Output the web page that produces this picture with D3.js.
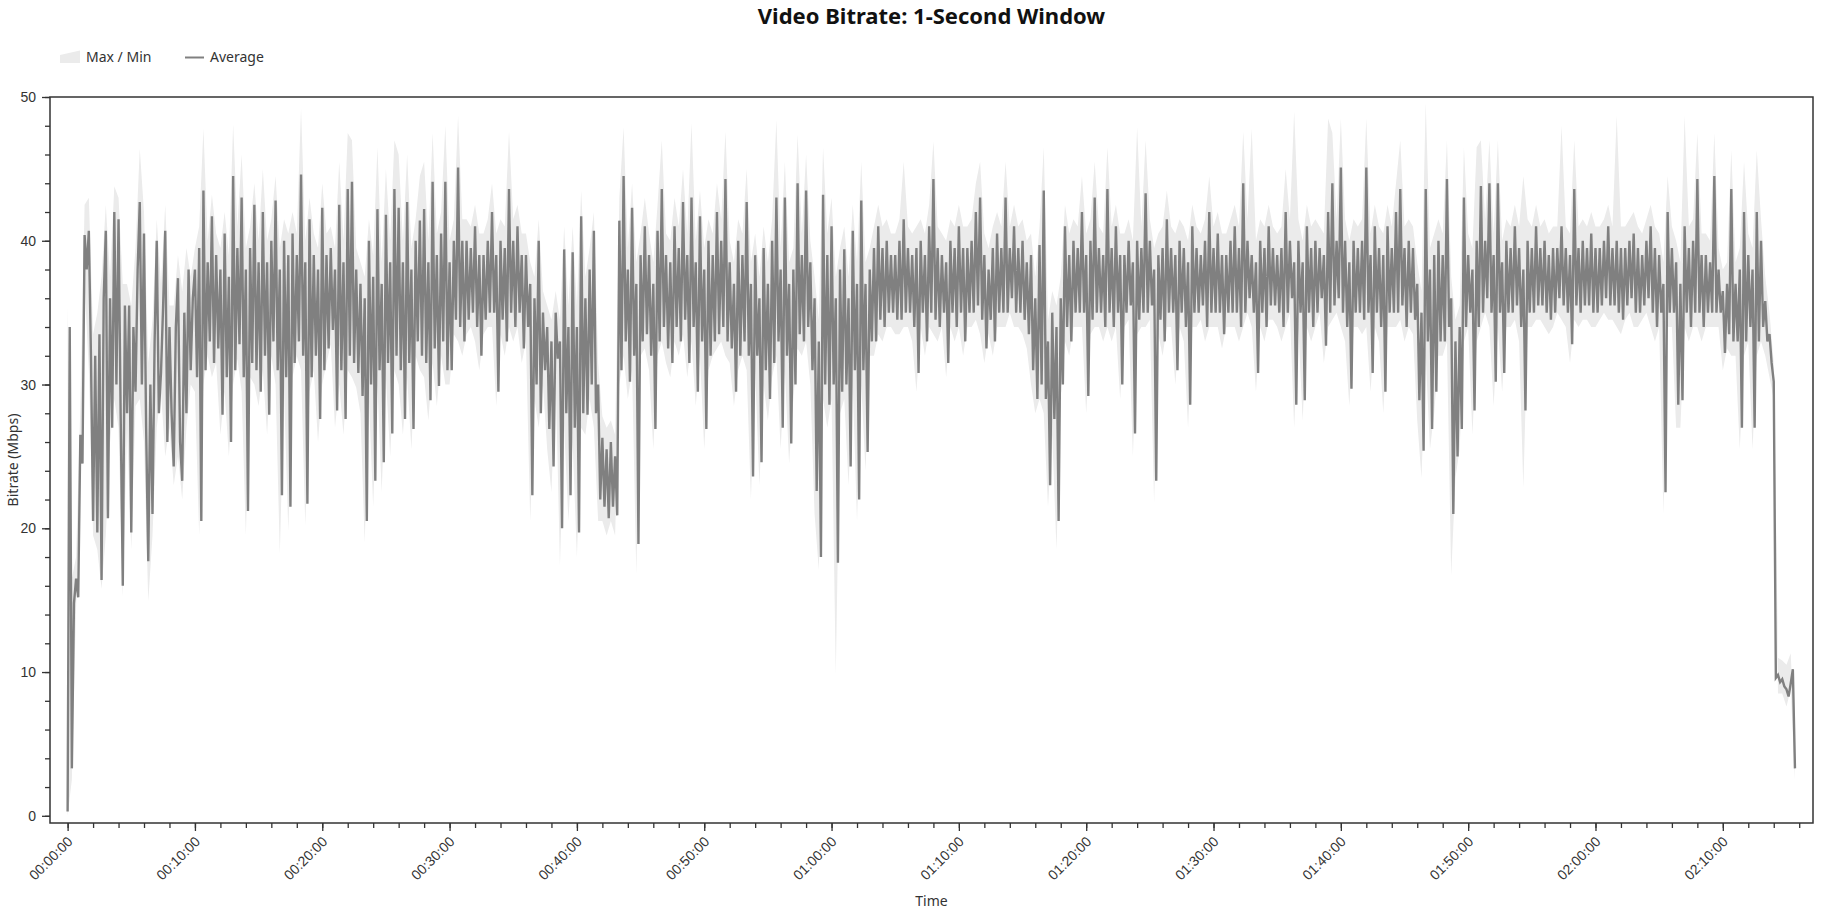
<!DOCTYPE html>
<html>
<head>
<meta charset="utf-8">
<script src="https://cdn.jsdelivr.net/npm/d3@7"></script>
<style>
  body { margin: 0; background: #fff; }
  svg { font-family: "Segoe UI", "Noto Sans", sans-serif; }
</style>
</head>
<body>
<svg id="chart"></svg>
<script>
// average bitrate, one sample every 10 s (Mbps)
const avgStep = 10;
const avgRate = [
  0.3, 34, 3.3, 14.8, 16.5, 15.2, 26.5, 24.5, 40.4, 38, 40.7, 32, 20.5, 32, 19.7, 33.5, 16.4, 36, 40.7, 20.7,
  36, 27, 42, 30, 41.5, 27.9, 16, 35.5, 28, 35.5, 19.7, 34, 29.5, 38, 42.7, 30, 40.5, 27, 17.7, 30,
  21, 33, 40, 28, 30.8, 35.4, 40.7, 26, 34, 28, 24.3, 34, 37.4, 26, 23.3, 35, 28, 38, 31, 36,
  38, 30.5, 39.5, 20.5, 43.5, 31, 38.5, 33, 41.7, 31.5, 39, 32.5, 38, 27.9, 40.5, 30.5, 37.5, 26, 44.5, 31,
  39.5, 32.8, 43, 30.5, 38, 21.2, 39.5, 31.5, 42.5, 31, 38.5, 29.5, 42, 32, 38.5, 27.9, 40, 33, 42.8, 31,
  38, 22.3, 40, 30.5, 39, 21.5, 40.5, 31.5, 39, 33, 44.6, 32, 38.5, 21.7, 41.5, 30.5, 39, 32, 38, 27.6,
  42.3, 31, 39, 32.5, 39.5, 33.8, 38, 28.2, 42.5, 31, 38.5, 27.6, 43.6, 32, 44.1, 31.5, 38, 30.8, 37, 29.2,
  36, 20.5, 40, 30, 37.5, 23.3, 42.2, 31, 37, 24.6, 41.8, 31.5, 38.5, 26.6, 43.6, 32, 42.3, 31, 38.5, 27.6,
  42.7, 31.5, 38, 26.9, 40, 33, 41.4, 32, 42.2, 31.5, 38.5, 28.9, 44.1, 32.5, 39, 29.9, 40.5, 33, 44.1, 31,
  38.5, 31, 40, 34.5, 45.1, 34, 40, 33, 40, 34.5, 39.5, 35, 41, 34, 39, 32, 39, 34.5, 40, 35,
  42, 35, 39, 29.5, 40, 34.5, 39.5, 33, 43.6, 35, 40, 34, 41, 35, 39, 32.5, 39, 34, 37, 22.3,
  36, 30, 40, 28, 35, 31, 34, 26.9, 33, 24.3, 35, 31.8, 33, 20, 39.4, 28, 34, 22.3, 39.2, 27,
  34, 19.7, 41.7, 28, 36, 27.9, 38, 30, 40.7, 28, 30, 22, 26.3, 21.5, 25.5, 20.7, 26, 21.5, 25, 20.9,
  41.4, 31, 44.5, 33, 38, 30.2, 42.3, 32, 37, 18.9, 39, 33, 41, 33.5, 39, 32, 37, 26.9, 40.7, 33,
  43.6, 34, 39, 32.5, 38.5, 31.5, 41, 34, 39.5, 33, 42.7, 34.5, 39, 31.5, 43, 34, 38.5, 29.5, 41.7, 33,
  38, 26.9, 40, 32, 39, 33, 42, 33.5, 40, 34, 44.3, 33, 38.5, 32.5, 37, 29.5, 40, 32, 39, 33,
  42.7, 32, 37, 23.6, 39, 32, 36, 24.6, 39.5, 31, 37, 29, 40, 31.5, 43, 33, 38, 27, 43, 32,
  37, 25.9, 38, 30, 44, 33.5, 39, 33, 43.5, 34, 38.5, 31, 36, 22.6, 33, 18, 43.2, 30, 39, 28.6,
  41, 30, 36, 17.6, 38, 29.5, 39.4, 30, 36, 24.3, 40.7, 31, 37, 22, 42.8, 31, 37, 25.3, 38, 33,
  39.5, 33, 41, 34.5, 39.5, 34, 40, 35, 39, 35, 39, 34.5, 40, 34.5, 41.5, 35, 39.5, 35, 39, 34,
  39.5, 30.8, 40, 35, 39, 33, 41, 35, 44.3, 34.5, 39.5, 34, 39, 35, 38.5, 31.5, 40, 35, 39.5, 34,
  41, 35, 39.5, 33, 39.5, 35, 40, 35, 42, 35.5, 43, 34.5, 39, 32.5, 38, 34.5, 39.5, 33, 40.5, 35,
  39.5, 35, 43, 35, 39.5, 36, 41, 35, 39.5, 35, 40, 34.5, 38.5, 33.5, 39, 31, 36, 29, 39.7, 30,
  43.5, 29, 33, 23, 35, 27.6, 34, 20.5, 36, 30, 41, 34, 39, 33, 40, 35, 39.5, 35, 42, 35,
  39, 29.2, 40, 34.5, 43, 35, 39.5, 35, 39, 34, 43.6, 35, 39.5, 34, 41, 35, 39, 30, 39, 35,
  40, 35.5, 38.5, 26.6, 40, 34.5, 39.5, 35, 43.3, 35, 40, 35.5, 38, 23.3, 39, 34.5, 39.5, 33, 41.5, 35,
  39.5, 35, 39, 31, 40, 35, 39.5, 34, 38.5, 28.6, 41, 35, 39.5, 35, 39, 35.5, 40, 34, 42, 35,
  39.5, 35, 40.5, 35, 39, 33.5, 39, 35, 40, 35, 41, 35, 39.5, 34, 44, 35, 40, 36, 39, 35,
  38.5, 30.8, 40, 35, 39.5, 34, 41, 35.5, 39.5, 35.5, 39, 35, 39.5, 34, 42, 35, 40, 36, 38.5, 28.6,
  40, 35, 38.5, 28.9, 41, 35, 39.5, 34, 40, 35, 39.5, 36, 39, 32.7, 42, 35, 44, 35.5, 40, 36,
  45.1, 35, 40, 34, 38.5, 29.7, 40, 35, 39.5, 35, 40, 34.5, 45.1, 35, 39, 30.8, 41, 35, 39.5, 34,
  39, 29.5, 41, 35, 39.5, 35, 42, 35, 43.6, 35.5, 39.5, 34, 40, 35, 39.5, 34.5, 37, 28.9, 35, 25.4,
  43.6, 33, 38, 26.9, 39, 29.5, 40, 33, 39, 33, 44.3, 34, 36, 21, 33, 25, 34, 26.9, 43, 34,
  39, 35, 38, 28.2, 40, 34, 43.8, 35, 40, 36, 44, 35, 39, 30.2, 44, 35, 38.5, 30.8, 40, 35,
  39.5, 35, 41, 35.5, 39.5, 34, 38, 28.2, 40, 35, 39.5, 35, 41, 35.5, 39.5, 35.5, 40, 35, 39, 34.5,
  39.5, 35, 39.5, 36, 41, 35.5, 39.5, 35, 39, 32.8, 43.6, 35.5, 39.5, 35, 40, 35.5, 39.5, 35.5, 40.5, 35,
  39.5, 35, 39.5, 35.5, 40, 36, 41, 35.5, 39.5, 35.5, 40, 35, 39.5, 34.5, 39.5, 35.5, 40, 36, 40.5, 35,
  39.5, 35, 39, 35.5, 40, 36, 41, 35, 39.5, 34, 39, 35, 37, 22.5, 42, 35, 39.5, 35, 38.5, 28.6,
  37, 28.9, 41, 35, 39.5, 34, 40, 35, 44.3, 35, 39, 34, 39, 35, 38.5, 35, 44.5, 35, 38, 35,
  36.5, 32.2, 37, 33.5, 43.6, 33, 37, 33, 38, 27, 42, 33, 39, 34, 38, 27, 42, 33, 40, 34,
  35.8, 33, 33.5, 31.5, 30.2, 9.6, 9.8, 9.3, 9.5, 9.0, 8.8, 8.3, 9.2, 10.2, 3.3
];

// per-second max / min envelope, one sample every 20 s
const bandStep = 20;
const maxRate = [
  35.5, 16.5, 18, 28.5, 42.5, 43, 33.5, 35, 37.5, 42.5, 37.5, 43.8, 43, 37, 37, 35.5, 39.5, 46.4, 42, 31.5, 34.5, 41.5, 37, 42.5, 35.5, 35.5, 39, 36.5, 39.5, 37.5,
  39.5, 41, 47.8, 40, 43.2, 40.5, 39.5, 42, 39, 48.1, 41, 46, 39.5, 41, 44, 40, 45, 40, 41.5, 44.5, 39.5, 41.5, 40.5, 42, 40.5, 49.2, 40, 43, 40.5, 39.5,
  44, 40.5, 41, 39.5, 45.5, 40, 47.5, 47, 39.5, 38.5, 37.5, 41.5, 39, 46.5, 38.5, 45, 40, 47, 46, 40, 46, 39.5, 41.5, 44.5, 45.5, 40, 47.5, 40.5, 42, 48,
  40, 41.5, 48.7, 41.5, 41.5, 41, 42.5, 40.5, 40.5, 41.5, 44, 40.5, 41.5, 41, 47.6, 41.5, 42.5, 40.5, 40.5, 38.5, 37.5, 41.5, 36.5, 35.5, 34.5, 36.5, 34.5, 41, 35.5, 41,
  35.5, 43.5, 37.5, 39.5, 42, 31.5, 27.8, 27, 27.5, 26.5, 43, 47.9, 39.5, 44, 38.5, 40.5, 43, 40.5, 38.5, 42.5, 47, 40.5, 40, 43, 41, 45, 40.5, 48.2, 40, 43.5,
  39.5, 41.5, 40.5, 44, 41.5, 47.6, 40, 38.5, 41.5, 40.5, 45, 38.5, 40.5, 37.5, 41, 38.5, 41.5, 48.4, 39.5, 45.5, 38.5, 39.5, 47.4, 40.5, 46, 40, 37.5, 34.5, 46.5, 40.5,
  43, 37.5, 39.5, 41, 37.5, 42.5, 38.5, 45.5, 38.5, 39.5, 41, 42.5, 41, 41.5, 40.5, 40.5, 41.5, 45.5, 41, 40.5, 41, 41.5, 40.5, 42.5, 46.9, 41, 40.5, 40, 41.5, 41,
  42.5, 41, 41, 41.5, 44, 45.5, 40.5, 39.5, 41, 42, 41, 45.5, 41, 42.5, 41, 41.5, 40, 40.5, 37.5, 41, 46.5, 34.5, 36.5, 35.5, 37.5, 42.5, 40.5, 41.5, 41, 44.5,
  40.5, 41.5, 45.5, 41, 40.5, 46.5, 41, 42.5, 40.5, 40.5, 41.5, 40, 47.9, 41, 47, 41.5, 39.5, 40.5, 41, 43.5, 41, 40.5, 41.5, 41, 40, 42.5, 41, 40.5, 41.5, 44.5,
  41, 42, 40.5, 40.5, 41.5, 42.5, 41, 47.6, 41.5, 47.8, 40, 41.5, 41, 42.5, 41, 40.5, 41, 45, 41.5, 49, 41.5, 40, 42.5, 41, 41.5, 41, 40.5, 48.5, 47.5, 41.5,
  48.5, 41.5, 40, 41.5, 41, 41.5, 48.5, 40.5, 42.5, 41, 40.5, 42.5, 41, 44, 47, 41, 41.5, 41, 38.5, 36.5, 49.6, 39.5, 40.5, 41.5, 40.5, 47, 37.5, 34.5, 35.5, 46.5,
  40.5, 39.5, 46.5, 47, 41.5, 47, 40.5, 47, 40, 41.5, 41, 42.5, 41, 44.5, 41.5, 41, 42.5, 41, 41.5, 40.5, 41, 41, 48, 41, 40.5, 47, 41, 41.5, 41, 42,
  41, 41, 41.5, 42.5, 41, 48.7, 41, 41, 41.5, 42, 41, 40.5, 41.5, 42.5, 41, 40.5, 38.5, 44.5, 41, 40, 38.5, 48.7, 41, 41.5, 47.5, 40.5, 40.5, 40, 47.5, 39.5,
  38, 38.5, 46.3, 38.5, 39.5, 45.5, 40.5, 39.5, 46.3, 41.5, 37.5, 35, 31.5, 11, 10.8, 10.5, 11.3, 4.5
];
const minRate = [
  0, 2.5, 14.5, 23.5, 37, 31, 19.5, 18.5, 15.8, 19.5, 26, 29, 27, 15.2, 27, 18.5, 28.5, 29, 26, 14.9, 19.5, 27, 29.5, 25, 27, 23, 25, 22, 27, 30,
  29.5, 19.5, 30, 32, 30.5, 31.5, 26.5, 29.5, 25, 30, 31.8, 29.5, 19.5, 30.5, 30, 28.5, 31, 26.5, 32, 30, 18.2, 29.5, 19.8, 30.5, 32, 31, 20.2, 29.5, 31, 26,
  30, 31.5, 32.8, 27, 30, 26.5, 31, 30.5, 29.8, 28, 19, 29, 21.5, 30, 22.5, 30.5, 25, 31, 30, 26.5, 30.5, 25.5, 32, 31, 30.5, 27.5, 31.5, 28.5, 32, 30,
  30, 33.5, 33, 32, 33.5, 34, 33, 31, 33.5, 34, 34, 28.5, 33.5, 32, 34, 33, 34, 31.5, 33, 20.5, 29, 27, 30, 25.5, 22.5, 30.5, 17.4, 27, 20.5, 26,
  18, 27, 26.5, 29, 27, 20.5, 20.5, 19.5, 20.5, 19.5, 30, 32, 29, 31, 16.8, 32, 32.5, 31, 25.5, 32, 33, 31.5, 30.5, 33, 32, 33.5, 30.5, 33, 28.5, 32,
  25.5, 31, 32, 32.5, 33, 32, 31.5, 28.5, 31, 32, 31, 22, 31, 23, 30, 27.5, 30.5, 32, 25.5, 31, 24.5, 29, 32.5, 32, 33, 30, 21, 17.1, 29, 27,
  29, 9.8, 28, 29, 23, 30, 20.5, 30, 24, 32, 32, 33.5, 33, 34, 34, 33.5, 33.5, 34, 34, 33, 29.5, 34, 32, 34, 33.5, 33, 34, 30.5, 34, 33,
  34, 32, 34, 34, 34.5, 33.5, 31.5, 33.5, 32, 34, 34, 34, 35, 34, 34, 33.5, 32.5, 30, 28, 29, 28, 21.5, 26.5, 18.5, 29, 33, 32, 34, 34, 34,
  28, 33.5, 34, 34, 33, 34, 33, 34, 29, 34, 34.5, 25, 33.5, 34, 34, 34.5, 21.8, 33.5, 32, 34, 34, 30, 34, 33, 27, 34, 34, 34.5, 33, 34,
  34, 34, 32.5, 34, 34, 34, 33, 34, 35, 34, 29.5, 34, 33, 34.5, 34.5, 34, 33, 34, 35, 27, 34, 27.5, 34, 33, 34, 35, 31.5, 34, 34.5, 35,
  34, 33, 28.5, 34, 34, 33.5, 34, 29.5, 34, 33, 28, 34, 34, 34, 34.5, 33, 34, 33.5, 27.5, 23.5, 32, 25.5, 28, 32, 32, 33, 16.7, 23.5, 25.5, 33,
  34, 26.5, 33, 34, 35, 34, 28.5, 34, 29.5, 34, 34, 34.5, 33, 22.8, 34, 34, 34.5, 34.5, 34, 33.5, 34, 35, 34.5, 34, 31.5, 34.5, 34, 34.5, 34.5, 34,
  34, 34.5, 35, 34.5, 34.5, 34, 33.5, 34.5, 35, 34, 34, 34.5, 35, 34, 33, 34, 21, 34, 34, 27, 27, 34, 33, 34, 34, 33, 34, 34, 34, 34,
  31, 32.5, 32, 32, 25.5, 32, 33, 25.5, 32, 33, 32, 30.5, 29, 8.5, 8.5, 7.6, 8.8, 2.5
];

const yLabelTicks = [0, 10, 20, 30, 40, 50];

const w = 1837, h = 913;
const m = { top: 97, right: 24, bottom: 90, left: 50 };

const avgData = avgRate.map((v, i) => ({ t: i * avgStep, v }));
const bandData = maxRate.map((v, i) => ({ t: i * bandStep, max: v, min: minRate[i] }));

const svg = d3.select("#chart").attr("width", w).attr("height", h);

const x = d3.scaleLinear().domain([-83, 8225]).range([m.left, w - m.right]);
const y = d3.scaleLinear().domain([-0.5, 50]).range([h - m.bottom, m.top]);

const hms = (s) =>
  [Math.floor(s / 3600), Math.floor((s % 3600) / 60), s % 60]
    .map((n) => String(n).padStart(2, "0"))
    .join(":");

svg.append("defs").append("clipPath").attr("id", "plot-clip")
  .append("rect")
  .attr("x", m.left).attr("y", m.top)
  .attr("width", w - m.left - m.right).attr("height", h - m.top - m.bottom);

const plot = svg.append("g").attr("clip-path", "url(#plot-clip)");

plot.append("path")
  .datum(bandData)
  .attr("fill", "#ebebeb")
  .attr("d", d3.area().x((d) => x(d.t)).y0((d) => y(d.min)).y1((d) => y(d.max)));

plot.append("path")
  .datum(avgData)
  .attr("fill", "none")
  .attr("stroke", "#808080")
  .attr("stroke-width", 2.4)
  .attr("d", d3.line().x((d) => x(d.t)).y((d) => y(d.v)));

// frame
svg.append("rect")
  .attr("x", m.left).attr("y", m.top)
  .attr("width", w - m.left - m.right).attr("height", h - m.top - m.bottom)
  .attr("fill", "none").attr("stroke", "#333").attr("stroke-width", 1.5);

// x axis
const xMinor = svg.append("g")
  .attr("transform", `translate(0,${h - m.bottom})`)
  .call(d3.axisBottom(x).tickValues(d3.range(0, 8161, 120)).tickSize(5).tickFormat(""));
xMinor.select(".domain").remove();

const xMajor = svg.append("g")
  .attr("transform", `translate(0,${h - m.bottom})`)
  .call(d3.axisBottom(x).tickValues(d3.range(0, 8161, 600)).tickSize(8).tickFormat(hms));
xMajor.select(".domain").remove();
xMajor.selectAll("text")
  .attr("x", 0).attr("y", 0).attr("dy", "0.35em")
  .attr("text-anchor", "end")
  .attr("transform", "translate(2,16) rotate(-45)");

// y axis
const yMinor = svg.append("g")
  .attr("transform", `translate(${m.left},0)`)
  .call(d3.axisLeft(y).tickValues(d3.range(0, 51, 2)).tickSize(5).tickFormat(""));
yMinor.select(".domain").remove();

const yMajor = svg.append("g")
  .attr("transform", `translate(${m.left},0)`)
  .call(d3.axisLeft(y).tickValues(yLabelTicks).tickSize(8).tickPadding(6));
yMajor.select(".domain").remove();

svg.selectAll(".tick line").attr("stroke", "#333").attr("stroke-width", 1.3);
svg.selectAll(".tick text").attr("font-size", 14).attr("fill", "#333").attr("font-family", null);

// titles
svg.append("text")
  .attr("x", (m.left + w - m.right) / 2).attr("y", 24)
  .attr("text-anchor", "middle")
  .attr("font-size", 22).attr("font-weight", "bold").attr("fill", "#111")
  .text("Video Bitrate: 1-Second Window");

svg.append("text")
  .attr("x", (m.left + w - m.right) / 2).attr("y", 906)
  .attr("text-anchor", "middle")
  .attr("font-size", 14).attr("fill", "#333")
  .text("Time");

svg.append("text")
  .attr("transform", `translate(18,${(m.top + h - m.bottom) / 2}) rotate(-90)`)
  .attr("text-anchor", "middle")
  .attr("font-size", 14).attr("fill", "#333")
  .text("Bitrate (Mbps)");

// legend
const legend = svg.append("g").attr("font-size", 14).attr("fill", "#333");
legend.append("path")
  .attr("d", "M60,55 L80,50.5 L80,63 L60,63 Z")
  .attr("fill", "#ebebeb");
legend.append("text").attr("x", 86).attr("y", 57.5).attr("dy", "0.35em").text("Max / Min");
legend.append("line")
  .attr("x1", 185).attr("x2", 204).attr("y1", 57.5).attr("y2", 57.5)
  .attr("stroke", "#808080").attr("stroke-width", 2);
legend.append("text").attr("x", 210).attr("y", 57.5).attr("dy", "0.35em").text("Average");
</script>
</body>
</html>
